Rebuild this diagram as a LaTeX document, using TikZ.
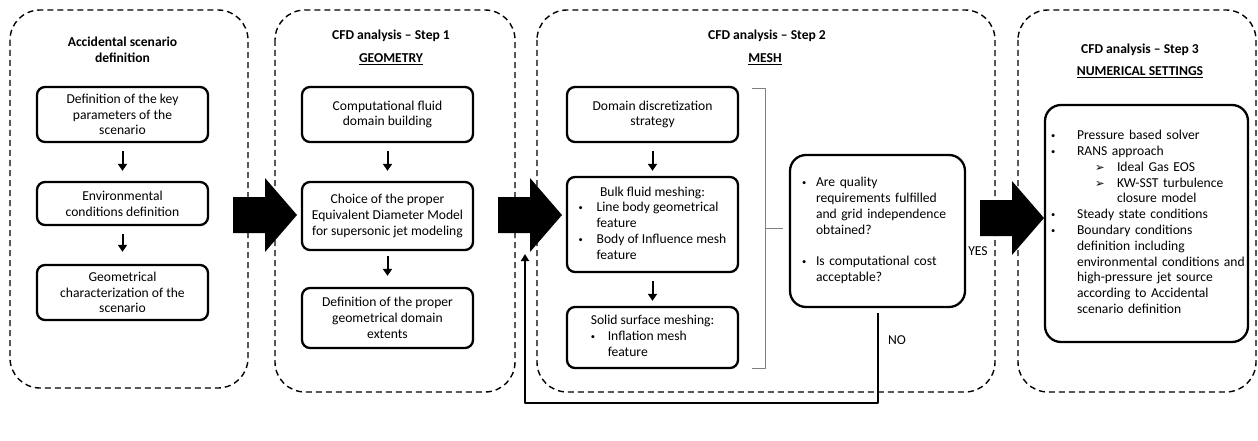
\documentclass[tikz,border=0pt]{standalone}
\usepackage{fontspec}
\setmainfont{Carlito}
\newfontfamily\symfont{DejaVu Sans}
\usetikzlibrary{arrows.meta}
\newcommand{\bul}{\raisebox{0.2ex}{\fontsize{8.5}{8.5}\selectfont\textbullet}}
\newcommand{\arr}{{\symfont\fontsize{11.5}{11.5}\selectfont ➢}}
\newcommand{\blockarrow}[2]{%
  \fill (#1,#2-18) -- ++(32,0) -- ++(0,-19) -- ++(32,37) -- ++(-32,37) -- ++(0,-19) -- ++(-32,0) -- cycle;}

\begin{document}
\begin{tikzpicture}[x=1pt, y=-1pt, line join=round,
  font=\fontsize{13.6}{15.8}\selectfont,
  frame/.style={line width=1.4pt, dash pattern=on 6pt off 4pt, rounded corners=30pt},
  box/.style={draw, line width=2.3pt, rounded corners=8pt, minimum width=171pt, align=center, inner sep=2pt},
  ttl/.style={font=\fontsize{13.6}{15.8}\selectfont\bfseries, align=center, inner sep=0pt},
  down/.style={-{Triangle[width=9pt,length=7pt]}, line width=2pt}]
\useasboundingbox (0,0) rectangle (1258,441);

% dashed frames
\draw[frame] (10,10) rectangle (248,388);
\draw[frame] (275,10) rectangle (515,392);
\draw[frame] (537,10) rectangle (995,392);
\draw[frame] (1018,10) rectangle (1256,392);

% titles
\node[ttl] (t1) at (122.5,50) {Accidental scenario\\definition};
\node[ttl] (t2) at (391,36) {CFD analysis – Step 1};
\node[ttl] (s2) at (391,59) {\underline{GEOMETRY}};
\node[ttl] (t3) at (767,36) {CFD analysis – Step 2};
\node[ttl] (s3) at (765,59) {\underline{MESH}};
\node[ttl] (t4) at (1140,50) {CFD analysis – Step 3};
\node[ttl] (s4) at (1140,72) {\underline{NUMERICAL SETTINGS}};

% accidental scenario
\node[box, minimum height=55pt] (a1) at (122.5,114.5) {Definition of the key\\parameters of the\\scenario};
\node[box, minimum height=43pt] (a2) at (122.5,203.5) {Environmental\\conditions definition};
\node[box, minimum height=55pt] (a3) at (122.5,292.5) {Geometrical\\characterization of the\\scenario};
\draw[down] ([yshift=-8pt]a1.south) -- ([yshift=10pt]a2.north);
\draw[down] ([yshift=-8pt]a2.south) -- ([yshift=12pt]a3.north);

% step 1
\node[box, minimum height=55pt] (b1) at (387.5,114.5) {Computational fluid\\domain building};
\node[box, minimum height=68pt] (b2) at (387.5,216) {Choice of the proper\\Equivalent Diameter Model\\for supersonic jet modeling};
\node[box, minimum height=60pt] (b3) at (387.5,318) {Definition of the proper\\geometrical domain\\extents};
\draw[down] ([yshift=-8pt]b1.south) -- ([yshift=10pt]b2.north);
\draw[down] ([yshift=-5pt]b2.south) -- ([yshift=11pt]b3.north);

% step 2
\node[box, minimum height=55pt] (c1) at (652.5,114.5) {Domain discretization\\strategy};
\node[box, minimum height=95pt] (c2) at (652.5,224.5) {\begin{tabular}{@{}p{18pt}@{}l@{}}
\multicolumn{2}{@{}c@{}}{Bulk fluid meshing:}\\
\bul & Line body geometrical\\
 & feature\\
\bul & Body of Influence mesh\\
 & feature
\end{tabular}};
\node[box, minimum height=61pt] (c3) at (652.5,337.5) {\begin{tabular}{@{}p{17pt}@{}l@{}}
\multicolumn{2}{@{}c@{}}{Solid surface meshing:}\\
\bul & Inflation mesh\\
 & feature
\end{tabular}};
\draw[down] ([yshift=-8pt]c1.south) -- ([yshift=5pt]c2.north);
\draw[down] ([yshift=-8pt]c2.south) -- ([yshift=5pt]c3.north);
\draw[gray, line width=0.8pt] (752,88) -| (765,228) -- (783,228);
\draw[gray, line width=0.8pt] (765,228) |- (752,368);

\node[box, rounded corners=16pt, minimum height=152pt, inner xsep=12pt, text width=151pt, align=left] (d) at (877.5,231) {\begin{tabular}{@{}p{14pt}@{}l@{}}
\bul & Are quality\\
 & requirements fulfilled\\
 & and grid independence\\
 & obtained?\\
 & \\
\bul & Is computational cost\\
 & acceptable?
\end{tabular}};
\node[inner sep=0pt] (yes) at (978,251) {YES};
\node[inner sep=0pt] (no) at (897,340) {NO};

% step 3
\node[box, rounded corners=16pt, minimum height=237pt, inner xsep=6pt, text width=191pt, align=left] (e) at (1146.5,223.5) {\begin{tabular}{@{}p{26pt}@{}l@{}}
\bul & Pressure based solver\\
\bul & RANS approach\\
 & \hspace*{18pt}\makebox[22pt][l]{\arr}Ideal Gas EOS\\
 & \hspace*{18pt}\makebox[22pt][l]{\arr}KW-SST turbulence\\
 & \hspace*{40pt}closure model\\
\bul & Steady state conditions\\
\bul & Boundary conditions\\
 & definition including\\
 & environmental conditions and\\
 & high-pressure jet source\\
 & according to Accidental\\
 & scenario definition
\end{tabular}};

% block arrows
\blockarrow{233}{215}
\blockarrow{498}{215}
\blockarrow{980}{218}

% feedback loop
\coordinate (nob) at (525,403);
\coordinate (back) at (525,254);
\draw[line width=2pt, -{Triangle[width=8pt,length=7pt]}] ([yshift=-5pt]d.south) -- (d.south |- nob) -- (nob) -- (back);
\end{tikzpicture}
\end{document}
